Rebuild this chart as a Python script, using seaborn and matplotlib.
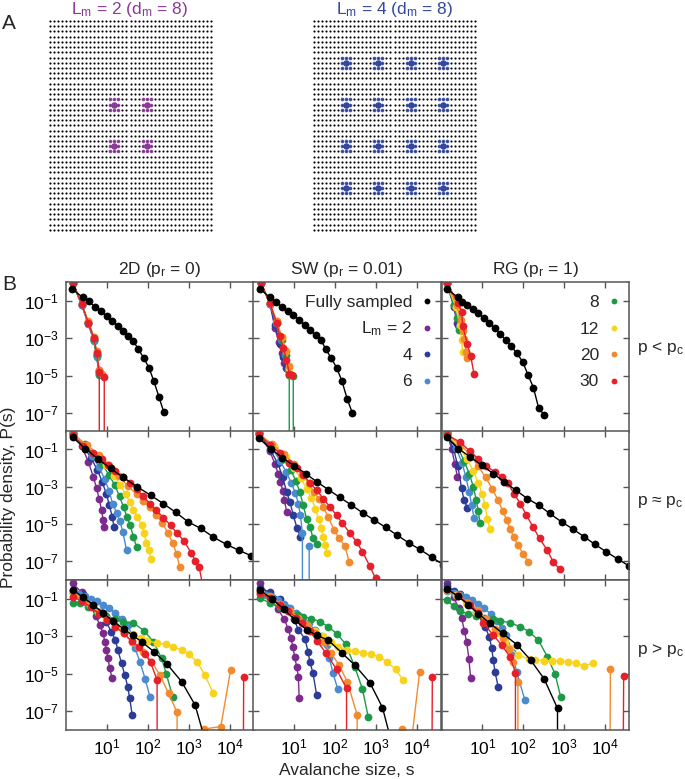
import numpy as np
import matplotlib
matplotlib.use("Agg")
import matplotlib.pyplot as plt
from matplotlib.lines import Line2D
from matplotlib.ticker import NullLocator
import seaborn as sns

sns.set_style("ticks")
plt.rcParams['font.family'] = ['Liberation Sans', 'DejaVu Sans']
plt.rcParams['mathtext.fontset'] = 'custom'
plt.rcParams['mathtext.rm'] = 'Liberation Sans'
plt.rcParams['mathtext.it'] = 'Liberation Sans'
plt.rcParams['mathtext.bf'] = 'Liberation Sans:bold'

Z = -np.inf  # marks a bin with P(s) = 0

# ---------------- data (log10 s, log10 P) ----------------
SERIES = ["full", "2", "4", "6", "8", "12", "20", "30"]
COLORS = {"full": "#000000", "2": "#7d2a8d", "4": "#2b3b96", "6": "#4a8bcf",
          "8": "#1c9a48", "12": "#f7d31c", "20": "#f28a2e", "30": "#e5202b"}
LEGEND_LABELS = {"full": "Fully sampled", "2": r"$\mathrm{L_m}$ = 2", "4": "4", "6": "6",
                 "8": "8", "12": "12", "20": "20", "30": "30"}
COL_TITLES = [r"2D ($\mathrm{p_r}$ = 0)", r"SW ($\mathrm{p_r}$ = 0.01)", r"RG ($\mathrm{p_r}$ = 1)"]
ROW_LABELS = [r"p < $\mathrm{p_c}$", r"p ≈ $\mathrm{p_c}$", r"p > $\mathrm{p_c}$"]
X_TICKS = [1e1, 1e2, 1e3, 1e4]
X_TICKLABELS = [r"$10^{1}$", r"$10^{2}$", r"$10^{3}$", r"$10^{4}$"]
Y_TICKS = [1e-7, 1e-5, 1e-3, 1e-1]
Y_TICKLABELS = [r"$10^{-7}$", r"$10^{-5}$", r"$10^{-3}$", r"$10^{-1}$"]

# Row 1: p < pc
S_2D_BELOW = {
    "full": [0.145, 0.398, 0.544, 0.699, 0.846, 0.985, 1.123, 1.253, 1.384, 1.514, 1.636, 1.759, 1.889, 2.020, 2.142, 2.264, 2.386],
    "2": [0.153, 0.373, 0.536, 0.675, 0.74, 0.80],
    "4": [0.153, 0.373, 0.536, 0.675, 0.74, 0.80],
    "6": [0.153, 0.373, 0.536, 0.675, 0.74, 0.805],
    "8": [0.153, 0.373, 0.536, 0.675, 0.74, 0.805, 0.87],
    "12": [0.153, 0.373, 0.536, 0.675, 0.74, 0.805],
    "20": [0.153, 0.373, 0.536, 0.675, 0.74, 0.805, 0.87],
    "30": [0.153, 0.373, 0.536, 0.675, 0.74, 0.805, 0.87, 0.927]}
P_2D_BELOW = {
    "full": [-0.36, -0.81, -1.02, -1.31, -1.56, -1.81, -2.07, -2.32, -2.59, -2.86, -3.14, -3.57, -4.04, -4.57, -5.30, -6.13, -6.97],
    "2": [-0.02, -1.2, -2.2, -3.1, -3.9, -4.7],
    "4": [-0.02, -1.2, -2.2, -3.1, -3.95, -4.8],
    "6": [-0.02, -1.2, -2.25, -3.15, -4.0, -4.98],
    "8": [-0.02, -1.15, -2.15, -3.05, -3.85, -4.9, -4.95],
    "12": [-0.02, -1.15, -2.15, -2.95, -3.75, -4.75],
    "20": [-0.02, -1.15, -2.1, -2.95, -3.7, -4.7, -4.9],
    "30": [-0.02, -1.16, -2.16, -3.0, -3.8, -4.79, Z, -5.05]}

S_SW_BELOW = {
    "full": [0.16, 0.406, 0.545, 0.69, 0.838, 0.976, 1.123, 1.253, 1.384, 1.522, 1.653, 1.775, 1.905, 2.036, 2.166, 2.296, 2.419],
    "2": [0.178, 0.406, 0.528, 0.62, 0.69, 0.74],
    "4": [0.178, 0.406, 0.53, 0.65, 0.73, 0.80],
    "6": [0.178, 0.406, 0.55, 0.68, 0.78, 0.85, 0.878],
    "8": [0.178, 0.406, 0.57, 0.70, 0.80, 0.878, 0.93, 0.976],
    "12": [0.178, 0.406, 0.57, 0.70, 0.80, 0.88],
    "20": [0.178, 0.406, 0.569, 0.70, 0.80, 0.87, 0.93],
    "30": [0.178, 0.406, 0.569, 0.65, 0.73, 0.81, 0.88, 0.95]}
P_SW_BELOW = {
    "full": [-0.36, -0.81, -1.04, -1.31, -1.54, -1.77, -2.02, -2.29, -2.55, -2.82, -3.09, -3.59, -4.07, -4.57, -5.28, -6.25, -6.98],
    "2": [-0.02, -1.15, -2.46, -3.2, -3.8, -4.3],
    "4": [-0.02, -1.15, -2.3, -3.3, -4.0, -4.6],
    "6": [-0.02, -1.15, -2.2, -3.1, -3.9, -4.7, -4.95],
    "8": [-0.02, -1.12, -2.2, -3.1, -3.9, -4.97, Z, -5.0],
    "12": [-0.02, -1.12, -2.1, -2.95, -3.7, -4.6],
    "20": [-0.02, -1.12, -2.1, -2.95, -3.7, -4.5, -4.95],
    "30": [-0.02, -1.12, -2.2, -2.9, -3.5, -4.15, -4.9, -4.97]}

S_RG_BELOW = {
    "full": [0.127, 0.41, 0.493, 0.633, 0.763, 0.90, 1.039, 1.17, 1.302, 1.438, 1.57, 1.70, 1.846, 1.985, 2.12, 2.25, 2.38, 2.516],
    "2": [0.127, 0.30, 0.38],
    "4": [0.127, 0.30, 0.40],
    "6": [0.127, 0.32, 0.42],
    "8": [0.127, 0.30, 0.37, 0.42],
    "12": [0.127, 0.35, 0.45, 0.49, 0.52],
    "20": [0.127, 0.37, 0.47, 0.52, 0.56, 0.60, 0.63],
    "30": [0.127, 0.40, 0.493, 0.518, 0.633, 0.714, 0.795]}
P_RG_BELOW = {
    "full": [-0.36, -0.81, -1.04, -1.23, -1.43, -1.66, -1.91, -2.16, -2.46, -2.77, -3.09, -3.41, -3.80, -4.25, -4.97, -5.64, -6.75, -7.11],
    "2": [-0.02, -1.3, -2.2],
    "4": [-0.02, -1.2, -2.3],
    "6": [-0.02, -1.2, -2.4],
    "8": [-0.02, -1.2, -1.9, -2.55],
    "12": [-0.02, -1.3, -2.3, -3.1, -3.75],
    "20": [-0.02, -1.2, -2.0, -2.6, -3.05, -3.72, -4.07],
    "30": [-0.02, -1.1, -1.57, -2.34, -3.3, -3.93, -4.91]}

# Row 2: p ~ pc
S_2D_CRIT = {
    "full": [0.153, 0.46, 0.77, 1.08, 1.392, 1.734, 2.06, 2.37, 2.672, 2.98, 3.29, 3.6, 3.92, 4.23, 4.53, 4.85],
    "2": [0.153, 0.37, 0.536, 0.66, 0.74, 0.805, 0.86, 0.90, 0.927],
    "4": [0.153, 0.41, 0.60, 0.76, 0.88, 0.98, 1.05, 1.12, 1.17],
    "6": [0.153, 0.43, 0.63, 0.80, 0.94, 1.05, 1.13, 1.23, 1.31, 1.38, 1.473],
    "8": [0.153, 0.45, 0.68, 0.88, 1.04, 1.18, 1.30, 1.40, 1.48, 1.56, 1.64, 1.717],
    "12": [0.153, 0.50, 0.75, 0.98, 1.17, 1.32, 1.45, 1.55, 1.64, 1.74, 1.84, 1.90, 1.96, 2.02, 2.08],
    "20": [0.153, 0.50, 0.80, 1.05, 1.28, 1.50, 1.72, 1.88, 2.04, 2.20, 2.35, 2.48, 2.60, 2.70, 2.776],
    "30": [0.153, 0.41, 0.65, 0.86, 1.02, 1.18, 1.39, 1.555, 1.717, 1.88, 2.04, 2.2, 2.37, 2.55, 2.7, 2.88, 3.06, 3.16, 3.25, 3.38]}
P_2D_CRIT = {
    "full": [-0.35, -0.95, -1.5, -2.02, -2.5, -3.0, -3.45, -3.9, -4.36, -4.88, -5.23, -5.7, -6.09, -6.41, -6.70, -7.05],
    "2": [-0.1, -0.8, -1.66, -2.47, -3.09, -3.68, -4.25, -4.79, -5.18],
    "4": [-0.1, -0.8, -1.45, -2.1, -2.75, -3.4, -3.95, -4.6, -5.18],
    "6": [-0.1, -0.75, -1.35, -1.95, -2.6, -3.25, -3.9, -4.4, -4.85, -5.4, -6.4],
    "8": [-0.15, -0.7, -1.25, -1.8, -2.35, -2.9, -3.5, -4.1, -4.6, -5.05, -5.68, -6.22],
    "12": [-0.2, -0.75, -1.3, -1.85, -2.4, -2.9, -3.4, -3.8, -4.25, -4.6, -5.05, -5.5, -6.0, -6.4, -6.89],
    "20": [-0.2, -0.75, -1.3, -1.85, -2.4, -2.95, -3.4, -3.75, -4.1, -4.5, -4.95, -5.45, -6.0, -6.6, -7.32],
    "30": [-0.25, -0.8, -1.2, -1.5, -1.85, -2.15, -2.47, -2.79, -3.14, -3.5, -3.9, -4.25, -4.65, -5.06, -5.47, -5.9, -6.57, -6.95, -7.29, -8.8]}

S_SW_CRIT = {
    "full": [0.137, 0.42, 0.71, 1.0, 1.278, 1.556, 1.832, 2.118, 2.4, 2.677, 2.963, 3.24, 3.516, 3.8, 4.08, 4.367, 4.65],
    "2": [0.137, 0.406, 0.53, 0.61, 0.65, 0.73, 0.76, 0.813],
    "4": [0.137, 0.406, 0.60, 0.72, 0.813, 0.895, 0.976, 1.07, 1.15],
    "6": [0.137, 0.45, 0.65, 0.80, 0.93, 1.03, 1.10, 1.15, 1.20, 1.28, 1.366],
    "8": [0.137, 0.50, 0.75, 0.92, 1.04, 1.14, 1.22, 1.30, 1.385, 1.466, 1.548],
    "12": [0.137, 0.50, 0.80, 1.0, 1.16, 1.30, 1.42, 1.52, 1.60, 1.66, 1.71, 1.76, 1.81],
    "20": [0.137, 0.45, 0.75, 1.0, 1.2, 1.35, 1.48, 1.61, 1.71, 1.83, 1.97, 2.1, 2.24, 2.345],
    "30": [0.137, 0.406, 0.65, 0.878, 1.06, 1.22, 1.385, 1.548, 1.71, 1.87, 2.036, 2.18, 2.36, 2.525, 2.67, 2.85, 2.99]}
P_SW_CRIT = {
    "full": [-0.41, -0.95, -1.45, -1.88, -2.29, -2.74, -3.15, -3.57, -3.98, -4.4, -4.79, -5.18, -5.59, -6.0, -6.36, -6.77, -7.18],
    "2": [-0.1, -1.1, -1.8, -2.3, -2.75, -3.2, -3.7, -4.34],
    "4": [-0.1, -1.0, -1.75, -2.5, -3.27, -3.81, -4.52, -5.23, -5.68],
    "6": [-0.1, -0.9, -1.6, -2.2, -2.8, -3.35, -3.9, -4.5, -5.5, Z, -6.17],
    "8": [-0.15, -0.85, -1.5, -2.1, -2.7, -3.3, -4.0, -4.7, -5.18, -5.77, -6.04],
    "12": [-0.15, -0.8, -1.4, -2.0, -2.55, -3.1, -3.6, -4.2, -4.75, -5.2, -5.68, -6.1, -6.53],
    "20": [-0.2, -0.7, -1.25, -1.8, -2.3, -2.8, -3.27, -3.68, -4.08, -4.61, -5.29, -5.77, -6.18, -7.02],
    "30": [-0.18, -0.77, -1.2, -1.75, -2.02, -2.38, -2.79, -3.18, -3.63, -4.07, -4.52, -4.96, -5.47, -5.95, -6.48, -7.25, -7.91]}

S_RG_CRIT = {
    "full": [0.127, 0.41, 0.70, 0.982, 1.267, 1.536, 1.82, 2.1, 2.376, 2.652, 2.938, 3.223, 3.492, 3.76, 4.037, 4.322, 4.6],
    "2": [0.127, 0.25, 0.33, 0.389],
    "4": [0.127, 0.30, 0.40, 0.493, 0.55, 0.633],
    "6": [0.127, 0.35, 0.50, 0.60, 0.68, 0.74, 0.795],
    "8": [0.127, 0.40, 0.55, 0.68, 0.78, 0.85, 0.90, 0.941],
    "12": [0.127, 0.45, 0.62, 0.78, 0.90, 1.0, 1.07, 1.12, 1.186],
    "20": [0.127, 0.45, 0.70, 0.90, 1.08, 1.24, 1.38, 1.5, 1.6, 1.675, 1.77, 1.87, 2.0, 2.123],
    "30": [0.127, 0.45, 0.70, 0.90, 1.1, 1.3, 1.47, 1.63, 1.77, 1.93, 2.08, 2.24, 2.4, 2.59, 2.734, 2.897]}
P_RG_CRIT = {
    "full": [-0.35, -0.95, -1.4, -1.84, -2.29, -2.74, -3.18, -3.63, -3.98, -4.43, -4.88, -5.27, -5.68, -6.09, -6.49, -6.88, -7.25],
    "2": [-0.05, -1.0, -1.8, -2.47],
    "4": [-0.1, -1.0, -1.9, -3.09, -3.7, -4.11],
    "6": [-0.1, -0.9, -1.7, -2.5, -3.3, -4.0, -4.65],
    "8": [-0.15, -0.9, -1.6, -2.3, -3.0, -3.7, -4.3, -4.93],
    "12": [-0.2, -0.85, -1.5, -2.15, -2.8, -3.4, -4.0, -4.7, -5.24],
    "20": [-0.2, -0.7, -1.3, -1.9, -2.5, -3.1, -3.7, -4.3, -4.8, -5.24, -5.7, -6.13, -6.6, -7.02],
    "30": [-0.2, -0.6, -1.1, -1.5, -1.9, -2.2, -2.45, -2.82, -3.36, -3.9, -4.52, -5.15, -5.77, -6.4, -7.02, -7.43]}

# Row 3: p > pc
S_2D_ABOVE = {
    "full": [0.153, 0.4, 0.65, 0.9, 1.15, 1.4, 1.62, 1.84, 2.14, 2.46, 2.82, 3.15, 3.4],
    "2": [0.153, 0.37, 0.56, 0.72, 0.82, 0.9, 0.94, 0.98, 1.02, 1.06, 1.12],
    "4": [0.153, 0.4, 0.6, 0.82, 0.97, 1.1, 1.2, 1.26, 1.35, 1.43, 1.5, 1.55, 1.61],
    "6": [0.153, 0.3, 0.45, 0.6, 0.75, 0.9, 1.05, 1.2, 1.35, 1.52, 1.68, 1.8, 1.93, 2.05],
    "8": [0.153, 0.33, 0.536, 0.74, 0.98, 1.19, 1.39, 1.63, 1.9, 2.13, 2.33, 2.45, 2.6],
    "12": [0.153, 0.37, 0.58, 0.78, 0.98, 1.2, 1.42, 1.64, 1.82, 1.98, 2.21, 2.43, 2.62, 2.82, 3.0, 3.2, 3.39, 3.59],
    "20": [0.153, 0.37, 0.6, 0.8, 1.0, 1.2, 1.4, 1.6, 1.75, 1.88, 2.08, 2.29, 2.5, 2.71, 2.78, 3.36, 3.78, 4.02],
    "30": [0.153, 0.37, 0.6, 0.8, 1.0, 1.2, 1.4, 1.6, 1.78, 1.93, 2.06, 2.22, 2.6, 4.34]}
P_2D_ABOVE = {
    "full": [-0.5, -0.9, -1.3, -1.75, -2.2, -2.6, -2.95, -3.29, -3.82, -4.48, -5.43, -6.68, -8.6],
    "2": [-0.16, -0.65, -1.2, -1.92, -2.4, -2.85, -3.29, -3.73, -4.18, -4.72, -5.25],
    "4": [-0.5, -0.75, -1.2, -1.7, -2.22, -2.75, -3.2, -3.73, -4.45, -5.07, -5.7, -6.32, -7.22],
    "6": [-0.7, -0.75, -0.85, -0.98, -1.12, -1.3, -1.5, -1.75, -2.05, -2.4, -3.64, -4.36, -5.3, -6.27],
    "8": [-1.2, -1.24, -1.41, -1.68, -1.9, -2.09, -2.22, -2.27, -2.7, -3.29, -4.18, -5.04, -6.23],
    "12": [-0.65, -1.0, -1.35, -1.7, -2.05, -2.4, -2.7, -2.9, -3.1, -3.26, -3.35, -3.44, -3.56, -3.74, -3.95, -4.37, -5.08, -6.02],
    "20": [-0.6, -0.95, -1.35, -1.7, -2.05, -2.45, -2.85, -3.3, -3.6, -3.82, -4.36, -5.07, -6.06, -7.07, Z, -7.97, -7.84, -4.8],
    "30": [-0.88, -1.1, -1.45, -1.8, -2.15, -2.5, -2.85, -3.25, -3.6, -3.95, -4.4, -5.34, Z, -5.16]}

S_SW_ABOVE = {
    "full": [0.161, 0.45, 0.75, 1.02, 1.3, 1.55, 1.83, 2.16, 2.48, 2.85, 3.16, 3.42],
    "2": [0.161, 0.406, 0.6, 0.76, 0.85, 0.92, 0.97, 1.01, 1.06, 1.1, 1.122],
    "4": [0.161, 0.4, 0.65, 0.85, 1.0, 1.1, 1.26, 1.34, 1.38, 1.46, 1.548],
    "6": [0.161, 0.3, 0.45, 0.6, 0.75, 0.9, 1.05, 1.2, 1.35, 1.5, 1.65, 1.79, 1.86, 1.95, 2.06],
    "8": [0.161, 0.4, 0.65, 0.9, 1.1, 1.22, 1.42, 1.63, 1.83, 2.05, 2.26, 2.48, 2.67, 2.81],
    "12": [0.161, 0.4, 0.65, 0.9, 1.1, 1.3, 1.5, 1.7, 1.9, 2.08, 2.28, 2.48, 2.69, 2.89, 3.08, 3.27, 3.48, 3.665],
    "20": [0.161, 0.406, 0.65, 0.9, 1.1, 1.3, 1.5, 1.7, 1.9, 2.1, 2.3, 2.54, 2.6, 3.64, 3.85, 4.07],
    "30": [0.161, 0.406, 0.65, 0.85, 1.05, 1.2, 1.38, 1.548, 1.77, 2.036, 2.28, 2.6, 4.38]}
P_SW_ABOVE = {
    "full": [-0.52, -1.0, -1.55, -2.13, -2.65, -2.95, -3.2, -3.88, -4.54, -5.48, -6.82, -9.0],
    "2": [-0.16, -0.9, -1.55, -2.1, -2.6, -3.1, -3.6, -4.1, -4.63, -5.16, -6.33],
    "4": [-0.4, -0.65, -1.0, -1.5, -2.1, -2.66, -3.12, -3.83, -4.36, -4.98, -6.15],
    "6": [-0.75, -0.8, -0.9, -1.05, -1.25, -1.5, -1.75, -2.0, -2.3, -2.65, -3.0, -3.47, -4.18, -4.98, -5.8],
    "8": [-0.97, -1.2, -1.45, -1.7, -1.85, -1.95, -2.05, -2.22, -2.48, -2.88, -3.42, -4.63, -5.83, -7.31],
    "12": [-0.6, -0.95, -1.3, -1.7, -2.05, -2.4, -2.7, -3.0, -3.3, -3.55, -3.71, -3.8, -3.89, -3.96, -4.1, -4.36, -4.77, -5.34],
    "20": [-0.55, -0.85, -1.25, -1.65, -2.0, -2.4, -2.85, -3.3, -3.9, -4.55, -5.45, -7.21, Z, -7.97, -9.0, -4.89],
    "30": [-0.7, -0.95, -1.3, -1.65, -2.0, -2.3, -2.7, -3.23, -3.88, -4.77, -5.79, Z, -5.16]}

S_RG_ABOVE = {
    "full": [0.127, 0.4, 0.65, 0.9, 1.186, 1.495, 1.855, 2.18, 2.51, 2.84, 2.9],
    "2": [0.127, 0.3, 0.42, 0.493, 0.56, 0.615, 0.67, 0.713],
    "4": [0.127, 0.3, 0.452, 0.65, 0.85, 1.063, 1.17, 1.23, 1.267, 1.31, 1.39],
    "6": [0.127, 0.3, 0.452, 0.6, 0.75, 0.9, 1.05, 1.2, 1.35, 1.47, 1.59, 1.72, 1.84, 2.04],
    "8": [0.127, 0.3, 0.452, 0.65, 0.85, 1.05, 1.25, 1.43, 1.675, 1.92, 2.14, 2.37, 2.59, 2.78, 2.92],
    "12": [0.127, 0.35, 0.6, 0.85, 1.1, 1.35, 1.55, 1.675, 1.88, 2.14, 2.3, 2.5, 2.7, 2.9, 3.1, 3.3, 3.48, 3.7],
    "20": [0.127, 0.4, 0.65, 0.9, 1.1, 1.3, 1.5, 1.65, 1.75, 1.87, 1.95, 4.135],
    "30": [0.127, 0.4, 0.7, 0.9, 1.022, 1.267, 1.47, 1.675, 1.81, 1.9, 4.46]}
P_RG_ABOVE = {
    "full": [-0.45, -0.85, -1.3, -1.8, -2.3, -2.84, -3.47, -4.27, -5.27, -6.86, Z],
    "2": [-0.16, -0.9, -1.5, -2.04, -2.7, -3.29, -4.2, -5.22],
    "4": [-0.3, -0.55, -0.75, -1.1, -1.7, -2.48, -3.02, -3.64, -4.27, -4.9, -5.74],
    "6": [-0.6, -0.7, -0.79, -0.9, -1.05, -1.25, -1.5, -1.8, -2.2, -2.55, -2.93, -3.82, -4.9, -6.41],
    "8": [-1.05, -1.4, -1.64, -1.8, -1.92, -2.0, -2.08, -2.17, -2.27, -2.48, -2.75, -3.2, -4.09, -5.02, -6.27],
    "12": [-0.5, -0.8, -1.2, -1.7, -2.25, -2.8, -3.3, -3.64, -4.0, -4.23, -4.27, -4.3, -4.32, -4.33, -4.36, -4.45, -4.59, -4.45],
    "20": [-0.5, -0.8, -1.2, -1.6, -2.1, -2.6, -3.1, -3.7, -4.4, -5.43, Z, -4.77],
    "30": [-0.45, -0.85, -1.3, -1.75, -2.3, -2.93, -3.47, -4.09, -4.95, Z, -5.13]}

PANELS = [[(S_2D_BELOW, P_2D_BELOW), (S_SW_BELOW, P_SW_BELOW), (S_RG_BELOW, P_RG_BELOW)],
          [(S_2D_CRIT, P_2D_CRIT), (S_SW_CRIT, P_SW_CRIT), (S_RG_CRIT, P_RG_CRIT)],
          [(S_2D_ABOVE, P_2D_ABOVE), (S_SW_ABOVE, P_SW_ABOVE), (S_RG_ABOVE, P_RG_ABOVE)]]

# Panel A lattice
N_SITES = 41
ELECTRODES_LEFT = [16, 24]
ELECTRODES_RIGHT = [8, 16, 24, 32]
A_TITLES = [r"$\mathrm{L_m}$ = 2 ($\mathrm{d_m}$ = 8)", r"$\mathrm{L_m}$ = 4 ($\mathrm{d_m}$ = 8)"]
A_COLORS = ["#8a3a97", "#3448a2"]

# ---------------- layout ----------------
W, H = 685, 779
fig = plt.figure(figsize=(W / 100, H / 100), dpi=100)

def fx(px):
    return px / W

def fy(py):
    return 1 - py / H

SPINE = "#555555"
FS = 12.5

# ----- Panel A -----
def draw_lattice(left_px, centers, color):
    ax = fig.add_axes([fx(left_px), fy(18.4 + 214), 165 / W, 214 / H])
    gx, gy = np.meshgrid(np.arange(N_SITES), np.arange(N_SITES))
    ax.scatter(gx.ravel(), gy.ravel(), s=2.4, marker="o", c="#000000", linewidths=0)
    nx, ny, cxs, cys = [], [], [], []
    for cy in centers:
        for cx in centers:
            for dy in (-1, 0, 1):
                for dx in (-1, 0, 1):
                    if dx or dy:
                        nx.append(cx + dx)
                        ny.append(cy + dy)
            cxs.append(cx)
            cys.append(cy)
    ax.scatter(nx, ny, s=7, c=color, alpha=0.85, linewidths=0)
    ax.scatter(cxs, cys, s=22, c=color, linewidths=0)
    ax.set_xlim(-0.5, N_SITES - 0.5)
    ax.set_ylim(N_SITES - 0.5, -0.5)
    ax.axis("off")

draw_lattice(48, ELECTRODES_LEFT, A_COLORS[0])
draw_lattice(312, ELECTRODES_RIGHT, A_COLORS[1])
fig.text(fx(130), fy(14), A_TITLES[0], color=A_COLORS[0], fontsize=12.5, ha="center", va="baseline")
fig.text(fx(395), fy(14), A_TITLES[1], color=A_COLORS[1], fontsize=12.5, ha="center", va="baseline")
fig.text(fx(2), fy(29), "A", fontsize=15, ha="left", va="baseline")
fig.text(fx(2), fy(290), "B", fontsize=15, ha="left", va="baseline")

# ----- Panel B -----
COL_LEFT = [66.4, 253.4, 441.5]
COL_W = 187.3
ROW_TOP = [282.3, 430.8, 580.3]
ROW_H = 149.3
DRAW_ORDER = ["2", "4", "6", "8", "12", "20", "30", "full"]

for r in range(3):
    for c in range(3):
        ax = fig.add_axes([fx(COL_LEFT[c]), fy(ROW_TOP[r] + ROW_H), COL_W / W, ROW_H / H])
        ax.set_xscale("log")
        ax.set_yscale("log")
        ax.set_xlim(1, 3.85e4)
        ax.set_ylim(1e-8, 1)
        S, P = PANELS[r][c]
        for key in DRAW_ORDER:
            xs = 10.0 ** np.asarray(S[key], dtype=float)
            ys = 10.0 ** np.asarray(P[key], dtype=float)
            col = COLORS[key]
            sns.lineplot(x=xs, y=ys, ax=ax, color=col, marker="o", markersize=5.6,
                         markeredgewidth=0, markeredgecolor=col, linewidth=1.0,
                         estimator=None, sort=False, legend=False)
        ax.set_xlim(1, 3.85e4)
        ax.set_ylim(1e-8, 1)
        ax.set_xticks(X_TICKS)
        ax.set_yticks(Y_TICKS)
        ax.xaxis.set_minor_locator(NullLocator())
        ax.yaxis.set_minor_locator(NullLocator())
        ax.set_xticklabels(X_TICKLABELS if r == 2 else [])
        ax.set_yticklabels(Y_TICKLABELS if c == 0 else [])
        ax.set_xlabel("")
        ax.set_ylabel("")
        ax.tick_params(axis="both", which="major", direction="in", length=4.5, width=1.0,
                       color=SPINE, labelcolor="black", labelsize=FS, pad=5.5,
                       top=True, right=True, bottom=True, left=True)
        for sp in ax.spines.values():
            sp.set_visible(True)
            sp.set_color(SPINE)
            sp.set_linewidth(1.1)
        if r == 0:
            ax.set_title(COL_TITLES[c], fontsize=FS, pad=6)

# row labels
for r, lab in enumerate(ROW_LABELS):
    fig.text(fx(637), fy([352, 505, 654][r]), lab, fontsize=FS, ha="left", va="baseline")

# legend (two columns of entries inside the top row)
LEG_ROWS_Y = [301, 327.5, 354, 380.5]
for i, key in enumerate(["full", "2", "4", "6"]):
    fig.text(fx(412), fy(LEG_ROWS_Y[i] + 6), LEGEND_LABELS[key], fontsize=FS, ha="right", va="baseline")
    fig.add_artist(Line2D([fx(427)], [fy(LEG_ROWS_Y[i])], marker="o", ms=4.2, mew=0,
                          color=COLORS[key], transform=fig.transFigure))
for i, key in enumerate(["8", "12", "20", "30"]):
    fig.text(fx(599), fy(LEG_ROWS_Y[i] + 6), LEGEND_LABELS[key], fontsize=FS, ha="right", va="baseline")
    fig.add_artist(Line2D([fx(614)], [fy(LEG_ROWS_Y[i])], marker="o", ms=4.2, mew=0,
                          color=COLORS[key], transform=fig.transFigure))

fig.text(fx(347), fy(775), "Avalanche size, s", fontsize=FS, ha="center", va="baseline")
fig.text(fx(13), fy(497), "Probability density, P(s)", fontsize=FS, rotation=90,
         rotation_mode="anchor", ha="center", va="baseline")

fig.savefig("out.png", dpi=100)
